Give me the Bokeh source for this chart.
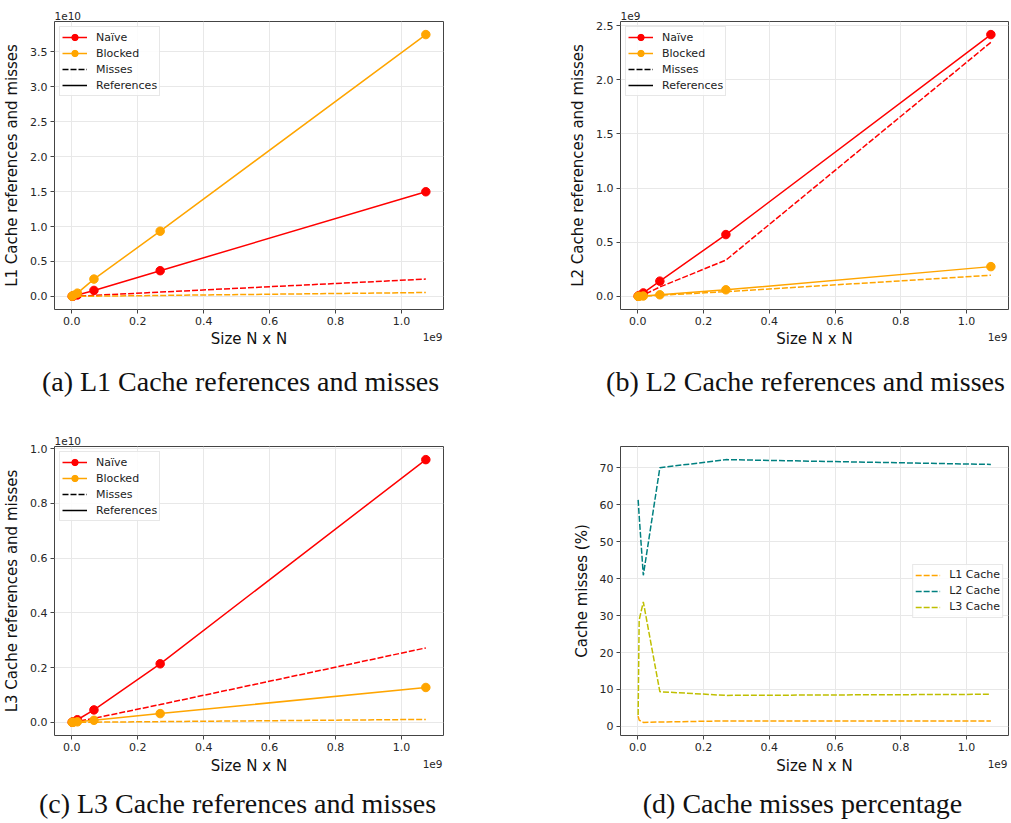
from bokeh.core.properties import value
from bokeh.embed import file_html
from bokeh.layouts import column, row
from bokeh.models import (FixedTicker, Legend, LegendItem,
                          PrintfTickFormatter, Range1d)
from bokeh.plotting import figure
from bokeh.resources import INLINE

# Matrix size N x N (units of 1e9 elements)
size = [0.00105, 0.00419, 0.0168, 0.0671, 0.268, 1.074]

# L1 cache (units of 1e10)
l1_naive_refs = [0.0013, 0.0052, 0.021, 0.086, 0.368, 1.497]
l1_naive_miss = [0.0002, 0.0009, 0.0035, 0.015, 0.062, 0.248]
l1_blocked_refs = [0.0034, 0.0135, 0.047, 0.248, 0.933, 3.745]
l1_blocked_miss = [0.0001, 0.0002, 0.0005, 0.003, 0.014, 0.056]

# L2 cache (units of 1e9)
l2_naive_refs = [0.0021, 0.0085, 0.032, 0.141, 0.571, 2.418]
l2_naive_miss = [0.0006, 0.0025, 0.012, 0.087, 0.335, 2.347]
l2_blocked_refs = [0.00024, 0.00095, 0.0038, 0.0151, 0.061, 0.275]
l2_blocked_miss = [0.00015, 0.00055, 0.0016, 0.0106, 0.044, 0.195]

# L3 cache (units of 1e10)
l3_naive_refs = [0.0006, 0.0024, 0.0095, 0.0455, 0.214, 0.960]
l3_naive_miss = [0.0001, 0.0005, 0.003, 0.015, 0.065, 0.272]
l3_blocked_refs = [0.00012, 0.0005, 0.002, 0.0075, 0.032, 0.1275]
l3_blocked_miss = [0.000004, 0.00014, 0.00067, 0.0007, 0.0027, 0.0108]

# Blocked version: misses as a percentage of references
pct_l1 = [2.8, 1.7, 1.1, 1.2, 1.5, 1.5]
pct_l2 = [61.3, 57.0, 40.9, 70.0, 72.2, 70.9]
pct_l3 = [3.1, 28.8, 33.7, 9.4, 8.4, 8.7]

x_ticks = [0.0, 0.2, 0.4, 0.6, 0.8, 1.0]

SANS = "DejaVu Sans"
SERIF = "Liberation Serif"
NAN = float("nan")
DASH = "6 2"
TICK_FONT = "11px"


def base_panel(width, height, left, right, top, bottom, y_range, y_ticks,
               y_fmt, y_label, multiplier=None):
    p = figure(width=width, height=height,
               x_range=Range1d(-0.0526, 1.1276), y_range=Range1d(*y_range),
               output_backend="svg", toolbar_location=None,
               min_border_left=left, min_border_right=right,
               min_border_top=top, min_border_bottom=bottom)
    p.frame_align = False
    if multiplier:
        p.title.text = multiplier
        p.title.align = "left"
        p.title.offset = 0
        p.title.standoff = 4
        p.title.text_font = SANS
        p.title.text_font_size = "10.5px"
        p.title.text_font_style = "normal"
        p.title.text_color = "#262626"
    p.background_fill_color = "white"
    p.border_fill_color = "white"
    p.outline_line_color = "#444444"
    p.outline_line_width = 1
    p.xaxis.ticker = FixedTicker(ticks=x_ticks)
    p.xaxis.formatter = PrintfTickFormatter(format="%.1f")
    p.yaxis.ticker = FixedTicker(ticks=y_ticks)
    p.yaxis.formatter = PrintfTickFormatter(format=y_fmt)
    p.yaxis.axis_label = y_label
    for ax in (p.xaxis, p.yaxis):
        ax.axis_line_color = None
        ax.major_tick_in = 0
        ax.major_tick_out = 4
        ax.major_tick_line_color = "#444444"
        ax.minor_tick_line_color = None
        ax.major_label_text_font = SANS
        ax.major_label_text_font_size = TICK_FONT
        ax.major_label_text_color = "#262626"
        ax.major_label_standoff = 3
        ax.axis_label_text_font = SANS
        ax.axis_label_text_font_size = "15px"
        ax.axis_label_text_font_style = "normal"
        ax.axis_label_text_color = "#111111"
    p.yaxis.axis_label_standoff = 6
    for g in (p.xgrid, p.ygrid):
        g.grid_line_color = "#e8e8e8"
        g.grid_line_width = 1
    return p


def caption_strip(width, height, frame_left, frame_width, label_y, mult_y,
                  caption, caption_x, caption_y):
    """Strip under a panel: x-axis title, x multiplier and sub-figure caption."""
    c = figure(width=width, height=height, x_range=Range1d(0, width),
               y_range=Range1d(height, 0), x_axis_type=None,
               y_axis_type=None, output_backend="svg", toolbar_location=None,
               min_border=0)
    c.frame_align = False
    c.outline_line_color = None
    c.background_fill_color = "white"
    c.border_fill_color = "white"
    c.text(x=[frame_left + frame_width / 2], y=[label_y], text=["Size N x N"],
           text_font=value(SANS), text_font_size=value("15px"),
           text_color="#111111", text_align="center", text_baseline="middle")
    c.text(x=[frame_left + frame_width - 1], y=[mult_y], text=["1e9"],
           text_font=value(SANS), text_font_size=value("10.5px"),
           text_color="#262626", text_align="right", text_baseline="middle")
    c.text(x=[caption_x], y=[caption_y], text=[caption],
           text_font=value(SERIF), text_font_size=value("28px"),
           text_color="#111111", text_align="center", text_baseline="middle")
    return c


def style_legend(leg, location):
    leg.location = location
    leg.margin = 5
    leg.padding = 2
    leg.spacing = 0
    leg.label_height = 16
    leg.glyph_height = 16
    leg.glyph_width = 25
    leg.label_standoff = 9
    leg.label_text_font = SANS
    leg.label_text_font_size = "11px"
    leg.label_text_color = "#222222"
    leg.border_line_color = "#d0d0d0"
    leg.border_line_width = 1
    leg.background_fill_color = "white"
    leg.background_fill_alpha = 0.85


def cache_panel(width, height, left, right, top, bottom, y_range, y_ticks,
                y_label, multiplier, naive_refs, naive_miss, blocked_refs,
                blocked_miss):
    p = base_panel(width, height, left, right, top, bottom, y_range, y_ticks,
                   "%.1f", y_label, multiplier)
    items = []
    for name, color, refs, miss in (("Naïve", "red", naive_refs, naive_miss),
                                    ("Blocked", "orange", blocked_refs,
                                     blocked_miss)):
        ref_line = p.line(size, refs, line_color=color, line_width=1.5)
        p.line(size, miss, line_color=color, line_width=1.5, line_dash=DASH)
        ref_dots = p.scatter(size, refs, marker="circle", size=8.5,
                             fill_color=color, line_color=color)
        err_key = p.scatter([NAN], [NAN], marker="cross", size=10,
                            line_color=color, line_width=1.5)
        items.append(LegendItem(label=name,
                                renderers=[ref_line, err_key, ref_dots]))
    miss_key = p.line([NAN], [NAN], line_color="black", line_width=1.5,
                      line_dash=DASH)
    ref_key = p.line([NAN], [NAN], line_color="black", line_width=1.5)
    items.append(LegendItem(label="Misses", renderers=[miss_key]))
    items.append(LegendItem(label="References", renderers=[ref_key]))
    leg = Legend(items=items)
    style_legend(leg, "top_left")
    p.add_layout(leg, "center")
    return p


# Top row: frame 288 px tall, 21 px from the top
TOP_H, TOP_STRIP = 329, 91
# Bottom row: frame 289 px tall, 26 px from the top
BOT_H, BOT_STRIP = 335, 68

# (a) L1
pa = cache_panel(560, TOP_H, 54, 117, 21, 20, (-0.187, 3.932),
                 [0, 0.5, 1.0, 1.5, 2.0, 2.5, 3.0, 3.5],
                 "L1 Cache references and misses", "1e10",
                 l1_naive_refs, l1_naive_miss, l1_blocked_refs, l1_blocked_miss)
ca = caption_strip(560, TOP_STRIP, 54, 389, 9, 7.5,
                   "(a) L1 Cache references and misses", 240, 52)

# (b) L2
pb = cache_panel(451, TOP_H, 60, 3, 21, 20, (-0.121, 2.539),
                 [0, 0.5, 1.0, 1.5, 2.0, 2.5],
                 "L2 Cache references and misses", "1e9",
                 l2_naive_refs, l2_naive_miss, l2_blocked_refs, l2_blocked_miss)
cb = caption_strip(451, TOP_STRIP, 60, 388, 9, 7.5,
                   "(b) L2 Cache references and misses", 245, 52)

# (c) L3
pc = cache_panel(560, BOT_H, 54, 117, 26, 20, (-0.048, 1.008),
                 [0, 0.2, 0.4, 0.6, 0.8, 1.0],
                 "L3 Cache references and misses", "1e10",
                 l3_naive_refs, l3_naive_miss, l3_blocked_refs, l3_blocked_miss)
cc = caption_strip(560, BOT_STRIP, 54, 389, 10, 8,
                   "(c) L3 Cache references and misses", 237, 48)

# (d) miss percentage
pd_ = base_panel(451, BOT_H, 60, 3, 26, 20, (-2.45, 75.75),
                 [0, 10, 20, 30, 40, 50, 60, 70], "%d", "Cache misses (%)")
pct_items = []
for name, color, vals in (("L1 Cache", "orange", pct_l1),
                          ("L2 Cache", "teal", pct_l2),
                          ("L3 Cache", "#bfbf00", pct_l3)):
    r = pd_.line(size, vals, line_color=color, line_width=1.5, line_dash=DASH)
    pct_items.append(LegendItem(label=name, renderers=[r]))
leg_d = Legend(items=pct_items)
style_legend(leg_d, "right")
pd_.add_layout(leg_d, "center")
cd = caption_strip(451, BOT_STRIP, 60, 388, 10, 8,
                   "(d) Cache misses percentage", 242, 48)

page = column(row(column(pa, ca), column(pb, cb)),
              row(column(pc, cc), column(pd_, cd)))

open("out.html", "w").write(file_html(page, INLINE))
